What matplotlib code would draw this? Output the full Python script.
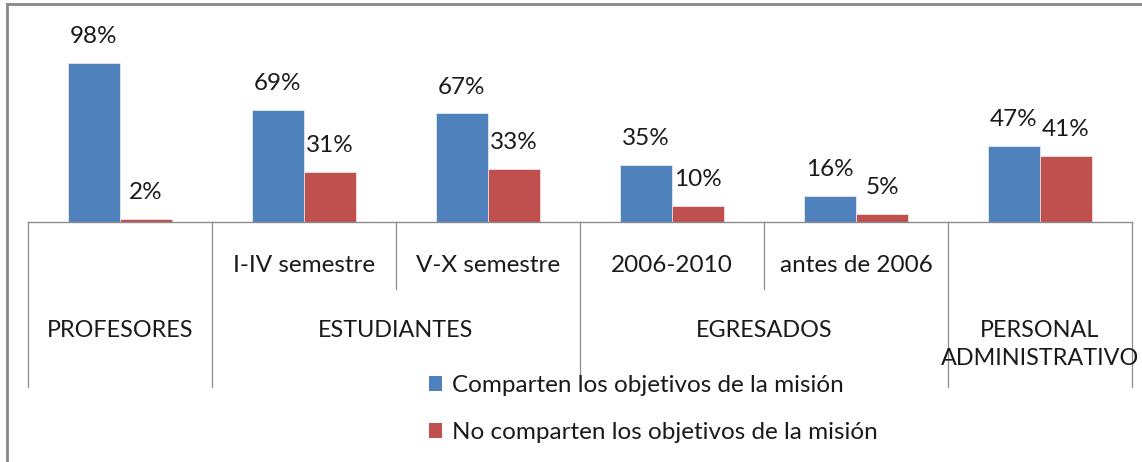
import matplotlib
matplotlib.use("Agg")
import matplotlib.pyplot as plt
from matplotlib.transforms import blended_transform_factory
from matplotlib.patches import Patch
from matplotlib.lines import Line2D

plt.rcParams['font.family'] = ['Lato', 'DejaVu Sans']

groups = ["PROFESORES", "ESTUDIANTES", "EGRESADOS", "PERSONAL\nADMINISTRATIVO"]
group_spans = [(0, 0), (1, 2), (3, 4), (5, 5)]
subcats = ["", "I-IV semestre", "V-X semestre", "2006-2010", "antes de 2006", ""]
comparten = [0.98, 0.69, 0.67, 0.35, 0.16, 0.47]
no_comparten = [0.02, 0.31, 0.33, 0.10, 0.05, 0.41]
series_names = ["Comparten los objetivos de la misión",
                "No comparten los objetivos de la misión"]
colors = ["#4F81BD", "#C0504D"]

W, H = 1142, 462
fig = plt.figure(figsize=(W / 100, H / 100), dpi=100)

def fx(px):
    return px / W

def fy(py):
    return 1 - py / H

base_y = 222
top_y = 222 - 1.62 * 120
ax = fig.add_axes([fx(28), fy(base_y), fx(1132 - 28), (base_y - top_y) / H])
ax.set_xlim(-0.5, len(subcats) - 0.5)
ax.set_ylim(0, 1.2)
for s in ["top", "right", "left"]:
    ax.spines[s].set_visible(False)
ax.spines["bottom"].set_color("#8c8c8c")
ax.spines["bottom"].set_linewidth(1.0)
ax.set_xticks([])
ax.set_yticks([])
ax.patch.set_visible(False)

bw = 0.283
x = list(range(len(subcats)))
fs = 17.5
fs_grp = 16.8
tc = "#1a1a1a"
for i, (vals, col) in enumerate(zip([comparten, no_comparten], colors)):
    off = (i - 0.5) * bw
    bars = ax.bar([xi + off for xi in x], vals, width=bw, color=col,
                  edgecolor="#f0f0f0", linewidth=0.5, zorder=2)
    for b, v in zip(bars, vals):
        ax.annotate(f"{round(v * 100)}%", (b.get_x() + b.get_width() / 2, v),
                    xytext=(0, 19), textcoords="offset points",
                    ha="center", va="center", fontsize=fs, color=tc,
                    annotation_clip=False)

tr = blended_transform_factory(ax.transData, fig.transFigure)
lc = "#8c8c8c"
# outer boundaries
for xb in [-0.5, 0.5, 2.5, 4.5, 5.5]:
    fig.add_artist(Line2D([xb, xb], [fy(base_y), fy(387)], transform=tr,
                          color=lc, lw=0.9))
# inner boundaries
for xb in [1.5, 3.5]:
    fig.add_artist(Line2D([xb, xb], [fy(base_y), fy(289)], transform=tr,
                          color=lc, lw=0.9))

for xi, lab in zip(x, subcats):
    if lab:
        fig.text(xi, fy(265), lab, transform=tr, ha="center", va="center",
                 fontsize=fs, color=tc)

for (a, b), g in zip(group_spans, groups):
    fig.text((a + b) / 2, fy(320), g, transform=tr, ha="center", va="top",
             fontsize=fs_grp, color=tc, linespacing=1.4)

handles = [Patch(facecolor=c, edgecolor="none") for c in colors]
fig.legend(handles, series_names, loc="upper left",
           bbox_to_anchor=(fx(429), fy(375)), frameon=False, fontsize=fs,
           handlelength=0.55, handleheight=0.55, handletextpad=0.4,
           labelspacing=1.08, borderaxespad=0, borderpad=0,
           labelcolor=tc)

# chart frame
fig.add_artist(Line2D([fx(7), fx(7)], [fy(4), 0], color="#888888", lw=2.0))
fig.add_artist(Line2D([fx(7), 1], [fy(4), fy(4)], color="#888888", lw=2.0))

fig.savefig("out.png", dpi=100)
